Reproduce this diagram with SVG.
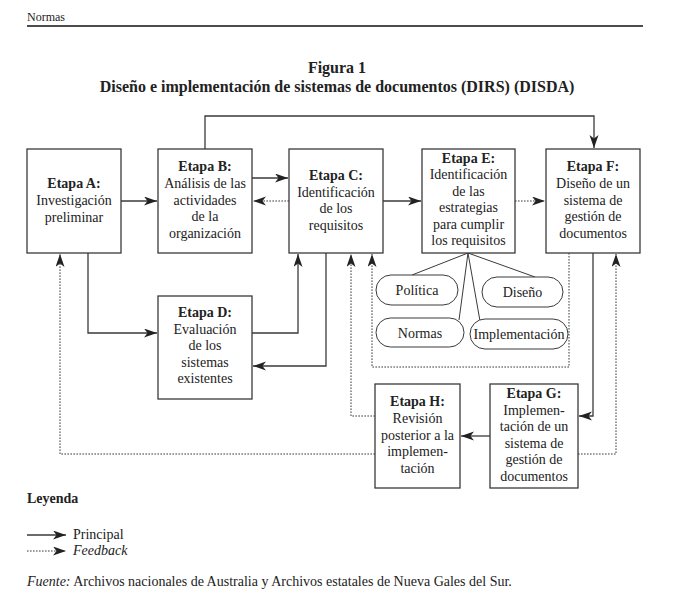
<svg xmlns="http://www.w3.org/2000/svg" width="673" height="606" viewBox="0 0 673 606">
<defs>
<style>
text{font-family:"Liberation Serif","Times New Roman",serif;fill:#222;}
.t{font-size:14px;text-anchor:middle;}
.b{font-weight:bold;}
.box{fill:#fff;stroke:#3a3a3a;stroke-width:1.3;}
.pill{fill:#fff;stroke:#3a3a3a;stroke-width:1;}
.sol{fill:none;stroke:#3a3a3a;stroke-width:1.3;}
.dot{fill:none;stroke:#3a3a3a;stroke-width:1;stroke-dasharray:1.6 1.4;}
.arr{marker-end:url(#ah);}
</style>
<marker id="ah" markerUnits="userSpaceOnUse" markerWidth="14" markerHeight="10" refX="13" refY="4.5" orient="auto">
<path d="M0,0 L13,4.5 L0,9 L3.5,4.5 z" fill="#222"/>
</marker>
</defs>
<rect width="673" height="606" fill="#fff"/>

<g id="header">
<text x="27" y="21" style="font-size:12px">Normas</text>
<line x1="27" y1="26" x2="643" y2="26" stroke="#111" stroke-width="1.5"/>
<text x="337" y="73" class="t b" style="font-size:16px">Figura 1</text>
<text x="337" y="92" class="t b" style="font-size:16px">Diseño e implementación de sistemas de documentos (DIRS) (DISDA)</text>
</g>

<g id="connectors">
<path class="sol arr" d="M121,201 H157"/>
<path class="sol arr" d="M252,178 H288"/>
<path class="sol arr" d="M383,201 H421"/>
<path class="sol arr" d="M205,149 V116 H594 V148"/>
<path class="sol arr" d="M88,253 V333 H157"/>
<path class="sol arr" d="M252,333 H298 V254"/>
<path class="sol arr" d="M326,253 V366 H253"/>
<path class="sol arr" d="M593,253 V416 H579"/>
<path class="sol arr" d="M490,436 H461"/>
<path class="dot arr" d="M289,201 H253"/>
<path class="dot arr" d="M515,201 H545"/>
<path class="dot arr" d="M569,253 V367 H372 V254"/>
<path class="dot arr" d="M375,416 H351 V254"/>
<path class="dot arr" d="M375,454 H60 V254"/>
<path class="dot arr" d="M578,454 H616 V254"/>
<path class="sol" style="stroke-width:1" d="M468,253 L412,275 M468,253 L535,277 M468,253 L459,320 M468,253 L480,321"/>
</g>

<g id="etapaA">
<rect class="box" x="27" y="149" width="94" height="104"/>
<text class="t b" x="74" y="188">Etapa A:</text>
<text class="t" x="74" y="205">Investigación</text>
<text class="t" x="74" y="222">preliminar</text>
</g>

<g id="etapaB">
<rect class="box" x="158" y="149" width="94" height="104"/>
<text class="t b" x="205" y="171">Etapa B:</text>
<text class="t" x="205" y="188">Análisis de las</text>
<text class="t" x="205" y="204.5">actividades</text>
<text class="t" x="205" y="221">de la</text>
<text class="t" x="205" y="237.5">organización</text>
</g>

<g id="etapaC">
<rect class="box" x="289" y="149" width="94" height="104"/>
<text class="t b" x="336" y="180">Etapa C:</text>
<text class="t" x="336" y="196.5">Identificación</text>
<text class="t" x="336" y="213">de los</text>
<text class="t" x="336" y="229.5">requisitos</text>
</g>

<g id="etapaE">
<rect class="box" x="422" y="149" width="93" height="104"/>
<text class="t b" x="468.5" y="163">Etapa E:</text>
<text class="t" x="468.5" y="179">Identificación</text>
<text class="t" x="468.5" y="195.5">de las</text>
<text class="t" x="468.5" y="212">estrategias</text>
<text class="t" x="468.5" y="228.5">para cumplir</text>
<text class="t" x="468.5" y="245">los requisitos</text>
</g>

<g id="etapaF">
<rect class="box" x="546" y="149" width="94" height="104"/>
<text class="t b" x="593" y="171">Etapa F:</text>
<text class="t" x="593" y="188">Diseño de un</text>
<text class="t" x="593" y="204.5">sistema de</text>
<text class="t" x="593" y="221">gestión de</text>
<text class="t" x="593" y="237.5">documentos</text>
</g>

<g id="etapaD">
<rect class="box" x="158" y="296" width="94" height="103"/>
<text class="t b" x="205" y="317">Etapa D:</text>
<text class="t" x="205" y="333.5">Evaluación</text>
<text class="t" x="205" y="350">de los</text>
<text class="t" x="205" y="366.5">sistemas</text>
<text class="t" x="205" y="383">existentes</text>
</g>

<g id="etapaH">
<rect class="box" x="375" y="384" width="85" height="104"/>
<text class="t b" x="417.5" y="406">Etapa H:</text>
<text class="t" x="417.5" y="423">Revisión</text>
<text class="t" x="417.5" y="439.5">posterior a la</text>
<text class="t" x="417.5" y="456">implemen-</text>
<text class="t" x="417.5" y="472.5">tación</text>
</g>

<g id="etapaG">
<rect class="box" x="490" y="384" width="88" height="104"/>
<text class="t b" x="534" y="398">Etapa G:</text>
<text class="t" x="534" y="414.5">Implemen-</text>
<text class="t" x="534" y="431">tación de un</text>
<text class="t" x="534" y="447.5">sistema de</text>
<text class="t" x="534" y="464">gestión de</text>
<text class="t" x="534" y="480.5">documentos</text>
</g>

<g id="politica">
<rect class="pill" x="376" y="275" width="82" height="30" rx="15"/>
<text class="t" x="417" y="295">Política</text>
</g>
<g id="diseno">
<rect class="pill" x="482" y="277" width="81" height="30" rx="15"/>
<text class="t" x="522.5" y="297">Diseño</text>
</g>
<g id="normas">
<rect class="pill" x="376" y="318" width="88" height="29" rx="14.5"/>
<text class="t" x="420" y="337.5">Normas</text>
</g>
<g id="implementacion">
<rect class="pill" x="470" y="319" width="98" height="30" rx="15"/>
<text class="t" x="519" y="339">Implementación</text>
</g>

<g id="legend">
<text x="27" y="503" class="b" style="font-size:14px">Leyenda</text>
<path class="sol arr" d="M27,535 H66"/>
<text x="73" y="539" style="font-size:14px">Principal</text>
<path class="dot arr" d="M27,551 H66"/>
<text x="73" y="555" style="font-size:14px;font-style:italic">Feedback</text>
<text x="27" y="586" style="font-size:14px"><tspan font-style="italic">Fuente:</tspan> Archivos nacionales de Australia y Archivos estatales de Nueva Gales del Sur.</text>
</g>
</svg>
